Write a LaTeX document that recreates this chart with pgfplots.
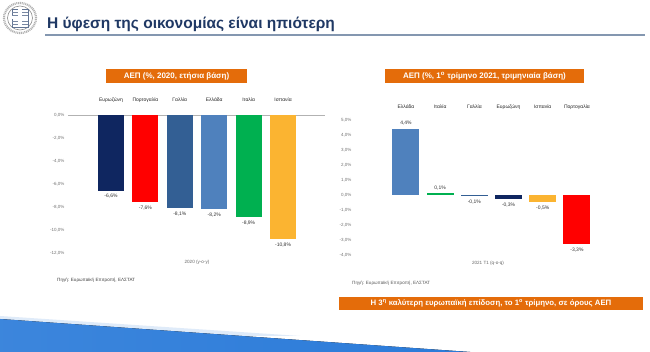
\documentclass[border=0pt]{standalone}
\usepackage{pgfplots}
\pgfplotsset{compat=1.18}
\usepackage{fontspec}
\setmainfont{Liberation Sans}
\definecolor{org}{HTML}{E46C0A}
\definecolor{ttl}{HTML}{1F3864}
\definecolor{navy}{HTML}{0F2660}
\definecolor{steel}{HTML}{335F94}
\definecolor{lblue}{HTML}{4F81BD}
\definecolor{grn}{HTML}{00B050}
\definecolor{ylw}{HTML}{FBB431}
\definecolor{rd}{HTML}{FF0000}
\definecolor{swoosh}{HTML}{2B7BD9}
\definecolor{uline}{HTML}{8497B0}
\pgfplotsset{
  mybar/.style={ybar, fill=#1, draw=none, bar shift=0pt},
  neg/.style={every node near coord/.append style={anchor=north}},
  common/.style={
    scale only axis,
    axis line style={draw=none}, major tick length=0pt,
    xtick={0,...,5}, xticklabel pos=upper,
    nodes near coords, point meta=explicit symbolic,
    nodes near coords style={font=\fontsize{5}{6}\selectfont, text=black!80, anchor=south},
    xticklabel style={font=\fontsize{5}{6}\selectfont, text=black!85, text height=4pt, text depth=1pt, anchor=south},
    yticklabel style={font=\fontsize{4.5}{5}\selectfont, text=black!55},
    /pgf/number format/assume math mode=true,
    /pgf/number format/use comma, /pgf/number format/fixed,
    /pgf/number format/fixed zerofill, /pgf/number format/precision=1,
    yticklabel={\pgfmathprintnumber{\tick}\%},
    clip=false,
  }
}
\begin{document}
\begin{tikzpicture}
\fill[white] (0pt,0pt) rectangle (650pt,352pt);
% bottom swoosh
\fill[swoosh!15] (0pt,36pt) -- (300pt,16pt) -- (0pt,16pt) -- cycle;
\fill[left color=swoosh!92, right color=swoosh] (0pt,33pt) -- (470pt,0pt) -- (0pt,0pt) -- cycle;
% logo
\begin{scope}[shift={(20pt,334pt)}, x=1pt, y=1pt]
\draw[black!30, line width=2.2pt, dash pattern=on 1pt off 0.8pt] (0,0) ellipse (16pt and 15pt);
\draw[black!45, line width=0.6pt] (0,0) ellipse (12.5pt and 12pt);
\draw[ttl!70, line width=0.6pt] (-8,-9) rectangle (8,9);
\foreach \yy in {-6,-3,0,3,6} \draw[ttl!60, line width=0.8pt] (-8,\yy) -- (8,\yy);
\fill[white] (-1.8,-9) rectangle (1.8,9);
\fill[white] (-8,-1.5) rectangle (8,1.5);
\end{scope}
% title
\node[anchor=west, text=ttl, font=\fontsize{15.5}{17}\selectfont\bfseries, inner sep=0] at (47pt,328pt) {Η ύφεση της οικονομίας είναι ηπιότερη};
\draw[color=uline, line width=1.2pt] (45pt,317pt) -- (645pt,317pt);
% boxes
\node[fill=org, text=white, font=\fontsize{8}{9}\selectfont\bfseries, minimum width=141pt, minimum height=14pt, inner sep=0] at (176.5pt,276pt) {ΑΕΠ (\%, 2020, ετήσια βάση)};
\node[fill=org, text=white, font=\fontsize{8}{9}\selectfont\bfseries, minimum width=199pt, minimum height=14pt, inner sep=0] at (484.5pt,276pt) {ΑΕΠ (\%, 1\textsuperscript{ο} τρίμηνο 2021, τριμηνιαία βάση)};
\node[fill=org, text=white, font=\fontsize{7.8}{9}\selectfont\bfseries, minimum width=304pt, minimum height=13pt, inner sep=0] at (491pt,48.5pt) {Η 3\textsuperscript{η} καλύτερη ευρωπαϊκή επίδοση, το 1\textsuperscript{ο} τρίμηνο, σε όρους ΑΕΠ};
% sources
\node[anchor=west, font=\fontsize{4.6}{5}\selectfont, text=black!75, inner sep=0] at (57pt,72pt) {Πηγή: Ευρωπαϊκή Επιτροπή, ΕΛΣΤΑΤ};
\node[anchor=west, font=\fontsize{4.6}{5}\selectfont, text=black!65, inner sep=0] at (352pt,69pt) {Πηγή: Ευρωπαϊκή Επιτροπή, ΕΛΣΤΑΤ};

% left chart
\begin{axis}[common, at={(68pt,99pt)}, anchor=south west, width=257pt, height=138pt,
  xmin=-1.25, xmax=6.22, ymin=-12, ymax=0, ytick={-12,-10,...,0},
  xticklabels={Ευρωζώνη,Πορτογαλία,Γαλλία,Ελλάδα,Ιταλία,Ισπανία},
  xticklabel style={yshift=9pt}, bar width=26pt]
\draw[black!30, line width=0.8pt] (axis cs:-1.25,0) -- (axis cs:6.22,0);
\addplot[mybar=navy, neg] coordinates {(0,-6.6) [{-6,6\%}]};
\addplot[mybar=rd, neg] coordinates {(1,-7.6) [{-7,6\%}]};
\addplot[mybar=steel, neg] coordinates {(2,-8.1) [{-8,1\%}]};
\addplot[mybar=lblue, neg] coordinates {(3,-8.2) [{-8,2\%}]};
\addplot[mybar=grn, neg] coordinates {(4,-8.9) [{-8,9\%}]};
\addplot[mybar=ylw, neg] coordinates {(5,-10.8) [{-10,8\%}]};
\node[font=\fontsize{4.6}{5}\selectfont, text=black!60] at (axis cs:2.5,-12.8) {2020 (y-o-y)};
\end{axis}

% right chart
\begin{axis}[common, at={(355pt,97pt)}, anchor=south west, width=265pt, height=135pt,
  xmin=-1.49, xmax=6.26, ymin=-4, ymax=5, ytick={-4,-3,...,5},
  xticklabels={Ελλάδα,Ιταλία,Γαλλία,Ευρωζώνη,Ισπανία,Πορτογαλία},
  xticklabel style={yshift=7pt}, bar width=27pt]
\addplot[mybar=lblue] coordinates {(0,4.4) [{4,4\%}]};
\addplot[mybar=grn] coordinates {(1,0.1) [{0,1\%}]};
\addplot[mybar=steel, neg] coordinates {(2,-0.1) [{-0,1\%}]};
\addplot[mybar=navy, neg] coordinates {(3,-0.3) [{-0,3\%}]};
\addplot[mybar=ylw, neg] coordinates {(4,-0.5) [{-0,5\%}]};
\addplot[mybar=rd, neg] coordinates {(5,-3.3) [{-3,3\%}]};
\node[font=\fontsize{4.6}{5}\selectfont, text=black!60] at (axis cs:2.4,-4.55) {2021 Τ1 (q-o-q)};
\end{axis}
\end{tikzpicture}
\end{document}
